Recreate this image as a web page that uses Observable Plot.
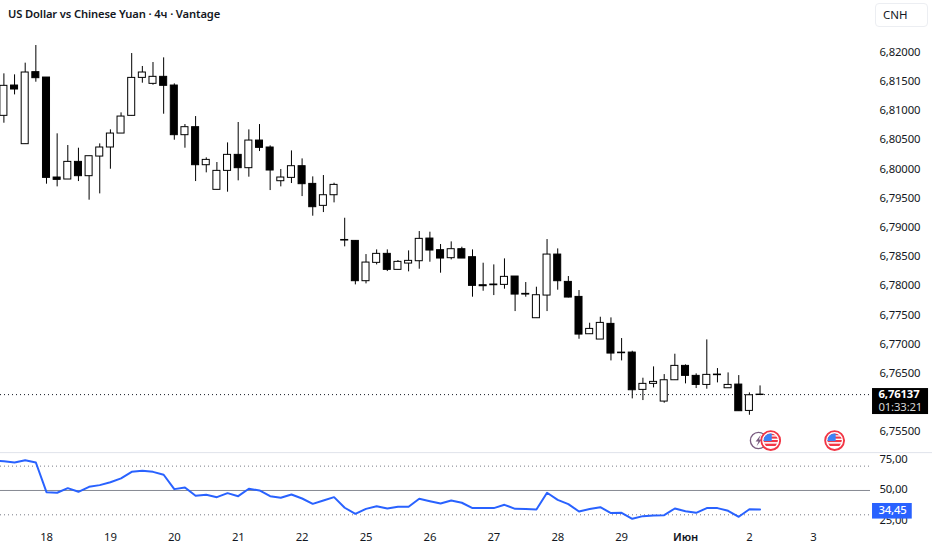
<!DOCTYPE html>
<html><head><meta charset="utf-8">
<script src="https://cdn.jsdelivr.net/npm/d3@7"></script>
<script src="https://cdn.jsdelivr.net/npm/@observablehq/plot@0.6"></script>
<style>
html,body{margin:0;padding:0;background:#fff;width:932px;height:550px;overflow:hidden;font-family:"Noto Sans",sans-serif;color:#131722}
#root{position:relative;width:932px;height:550px}
#title{position:absolute;left:8px;top:5px;font-size:11.2px;font-weight:600;letter-spacing:-0.13px;line-height:18px;color:#131722;white-space:nowrap}
#cnh{position:absolute;left:875px;top:3px;width:53px;height:24px;border:1px solid #eceef2;border-radius:4px;box-sizing:border-box;font-size:11.5px;line-height:22px;padding-left:7px;color:#131722}
#price,#rsi{position:absolute;left:0}
#price{top:0}#rsi{top:452px}
svg{display:block;background:transparent}
</style></head><body>
<div id="root">
<div id="price"></div><div id="rsi"></div>
<div id="title">US Dollar vs Chinese Yuan · 4ч · Vantage</div>
<div id="cnh">CNH</div>
</div>
<script>
const open=[6.80910,6.81429,6.80425,6.81658,6.81566,6.79854,6.79820,6.80122,6.79877,6.80213,6.80368,6.80607,6.80910,6.81560,6.81458,6.81578,6.81429,6.80579,6.80716,6.80065,6.79643,6.79968,6.80242,6.80014,6.80487,6.80368,6.79791,6.79848,6.80048,6.79745,6.79369,6.79551,6.78785,6.78769,6.78079,6.78393,6.78547,6.78273,6.78381,6.78421,6.78809,6.78610,6.78473,6.78627,6.78490,6.78010,6.78022,6.78016,6.78159,6.77862,6.77445,6.77833,6.78535,6.78067,6.77810,6.77171,6.77080,6.77348,6.76856,6.76857,6.76218,6.76321,6.76018,6.76383,6.76629,6.76458,6.76303,6.76470,6.76246,6.76309,6.75858,6.76130];
const close=[6.81424,6.81361,6.81652,6.81555,6.79848,6.79814,6.80122,6.79877,6.80219,6.80368,6.80607,6.80898,6.81560,6.81652,6.81578,6.81424,6.80579,6.80716,6.80065,6.80156,6.79968,6.80242,6.80014,6.80487,6.80362,6.79974,6.79854,6.80048,6.79740,6.79346,6.79551,6.79728,6.78775,6.78079,6.78398,6.78547,6.78273,6.78410,6.78427,6.78804,6.78604,6.78467,6.78627,6.78467,6.77999,6.77993,6.78010,6.78153,6.77850,6.77850,6.77839,6.78535,6.78079,6.77799,6.77165,6.77262,6.77365,6.76840,6.76846,6.76212,6.76321,6.76355,6.76383,6.76629,6.76458,6.76303,6.76475,6.76480,6.76303,6.75853,6.76126,6.76137];
const high=[6.81629,6.81612,6.81812,6.82114,6.81566,6.80602,6.80402,6.80356,6.80219,6.80430,6.80670,6.80961,6.81977,6.81755,6.81823,6.81903,6.81458,6.80761,6.80898,6.80191,6.80111,6.80447,6.80796,6.80670,6.80761,6.80396,6.79991,6.80310,6.80173,6.79865,6.79888,6.79757,6.79157,6.78775,6.78535,6.78615,6.78615,6.78433,6.78598,6.78929,6.78918,6.78707,6.78752,6.78661,6.78615,6.78387,6.78358,6.78461,6.78159,6.78056,6.77976,6.78792,6.78632,6.78159,6.77919,6.77359,6.77462,6.77451,6.77097,6.76880,6.76418,6.76612,6.76480,6.76829,6.76646,6.76492,6.77074,6.76583,6.76509,6.76463,6.76166,6.76286];
const low=[6.80784,6.81269,6.80425,6.81486,6.79740,6.79694,6.79820,6.79785,6.79466,6.79574,6.79996,6.80607,6.80910,6.81469,6.81435,6.80938,6.80493,6.80356,6.79785,6.79934,6.79643,6.79603,6.79797,6.79860,6.80299,6.79631,6.79694,6.79751,6.79528,6.79192,6.79254,6.79420,6.78667,6.78016,6.78033,6.78358,6.78244,6.78273,6.78239,6.78284,6.78404,6.78216,6.78444,6.78467,6.77805,6.77907,6.77833,6.77942,6.77559,6.77805,6.77445,6.77559,6.77925,6.77793,6.77085,6.77171,6.77080,6.76714,6.76714,6.76064,6.76035,6.76252,6.75990,6.76383,6.76321,6.76241,6.76229,6.76338,6.76246,6.75853,6.75784,6.76126];
const rsiIdx=d3.range(-1,72);
const rsi=[74.6,74.1,73.0,74.9,73.0,48.6,48.1,51.9,48.9,53.0,54.4,56.8,59.9,65.3,66.2,65.3,62.9,51.1,52.5,45.6,46.4,44.5,47.8,45.3,51.4,50.0,45.3,44.0,46.7,43.4,39.0,41.8,44.5,35.8,30.8,34.9,37.1,35.2,36.6,36.6,43.2,41.2,39.3,41.8,39.9,35.5,35.5,35.5,38.2,34.9,34.7,34.4,48.1,42.3,38.8,32.7,34.7,36.3,31.4,31.6,26.7,28.9,29.5,29.7,35.2,33.0,31.6,35.5,35.5,33.3,28.4,34.6,34.45];
const priceTicks=[6.755,6.765,6.77,6.775,6.78,6.785,6.79,6.795,6.80,6.805,6.81,6.815,6.82];
const rsiTicks=[25,50,75];
const dayIdx=[4,10,16,22,28,34,40,46,52,58,70,76];
const dayLabels=["18","19","20","21","22","25","26","27","28","29","2","3"];
const monthIdx=[64], monthLabels=["Июн"];
const lastPrice=6.76137, lastRsi=34.45;
const countdown="01:33:21";
const flagIdx=[72,78], boltIdx=[70.85];
const iconPrice=6.75351;
const xDomain=[-0.319,81.37];

const ink="#131722", fontF='"Noto Sans",sans-serif';
const fmt=(v,d)=>v.toFixed(d).replace(".",",");
const candles=open.map((o,i)=>({i,o,c:close[i],h:high[i],l:low[i],up:close[i]>=o}));
const flagSvg='data:image/svg+xml;utf8,'+encodeURIComponent('<svg xmlns="http://www.w3.org/2000/svg" viewBox="0 0 20 20"><circle cx="10" cy="10" r="9" fill="#fff" stroke="#f23645" stroke-width="1.8"/><clipPath id="c"><circle cx="10" cy="10" r="6.8"/></clipPath><g clip-path="url(#c)"><rect width="20" height="20" fill="#fff"/><rect y="9.5" width="20" height="2" fill="#f23645"/><rect y="13" width="20" height="2.2" fill="#f23645"/><rect y="3" width="20" height="2" fill="#f23645"/><rect y="6.2" width="20" height="2" fill="#f23645"/><rect x="2" y="2" width="9" height="8.5" fill="#3b82f6"/></g></svg>');
const boltSvg='data:image/svg+xml;utf8,'+encodeURIComponent('<svg xmlns="http://www.w3.org/2000/svg" viewBox="0 0 20 20"><circle cx="10" cy="10" r="8.5" fill="#fff" stroke="#7a5c80" stroke-width="1.4"/><path d="M12.5 4 L7 11 L10 11 L8 16 L13.5 9 L10.5 9 Z" fill="#7a5c80"/></svg>');
const plotStyle={fontFamily:fontF,fontSize:"11.3px",letterSpacing:"-0.15px",color:ink,background:"transparent"};

const price=Plot.plot({
  width:932,height:452,marginLeft:0,marginRight:62,marginTop:0,marginBottom:0,
  style:plotStyle,
  x:{domain:xDomain,axis:null},
  y:{domain:[6.75146,6.82885],axis:null},
  marks:[
    Plot.axisY({anchor:"right",ticks:priceTicks,tickSize:0,tickPadding:9,tickFormat:v=>fmt(v,5),label:null,textAnchor:"start"}),
    Plot.ruleY([lastPrice],{stroke:ink,strokeDasharray:"1,3",strokeWidth:1}),
    Plot.ruleX(candles,{x:"i",y1:"l",y2:"h",stroke:"#000",strokeWidth:1}),
    Plot.rect(candles,{x1:d=>d.i-0.33,x2:d=>d.i+0.33,y1:d=>Math.min(d.o,d.c),y2:d=>Math.max(d.o,d.c),fill:d=>d.up?"#fff":"#000",stroke:"#000",strokeWidth:1}),
    Plot.image(boltIdx,{x:d=>d,y:()=>iconPrice,src:()=>boltSvg,width:19,height:19}),
    Plot.image(flagIdx,{x:d=>d,y:()=>iconPrice,src:()=>flagSvg,width:21,height:21}),
    Plot.rect([0],{x1:81.56,x2:86.82,y1:6.75796,y2:6.76241,fill:"#000"}),
    Plot.text([fmt(lastPrice,5)],{text:d=>d,frameAnchor:"right",textAnchor:"start",y:()=>lastPrice,dy:-0.5,dx:8,fill:"#fff",fontWeight:700}),
    Plot.text([countdown],{text:d=>d,frameAnchor:"right",textAnchor:"start",y:()=>lastPrice,dy:13,dx:8,fill:"#fff",fillOpacity:0.85})
  ]
});
document.getElementById("price").appendChild(price);

const rsiPlot=Plot.plot({
  width:932,height:98,marginLeft:0,marginRight:62,marginTop:0,marginBottom:22,
  style:plotStyle,
  x:{domain:xDomain,axis:null},
  y:{domain:[18.75,81.2],axis:null},
  marks:[
    Plot.ruleY([0],{y:()=>81.1,x1:xDomain[0],x2:93,stroke:"#e0e3eb",strokeWidth:1}),
    Plot.ruleY([30,70],{stroke:"#787b86",strokeDasharray:"1,3",strokeWidth:1}),
    Plot.ruleY([50],{stroke:"#868993",strokeWidth:1}),
    Plot.line(rsi,{x:(d,i)=>rsiIdx[i],y:d=>d,stroke:"#2962ff",strokeWidth:2,curve:"linear"}),
    Plot.axisY({anchor:"right",ticks:rsiTicks,tickSize:0,tickPadding:9,dy:-1,tickFormat:v=>fmt(v,2),label:null,textAnchor:"start"}),
    Plot.rect([0],{x1:81.56,x2:85.29,y1:26.5,y2:39.3,fill:"#2962ff"}),
    Plot.text([fmt(lastRsi,2)],{text:d=>d,frameAnchor:"right",textAnchor:"start",y:()=>lastRsi-1,dx:8,fill:"#fff",fontWeight:500}),
    Plot.axisX({anchor:"bottom",ticks:dayIdx,tickSize:0,tickPadding:4,tickFormat:v=>dayLabels[dayIdx.indexOf(v)],label:null}),
    Plot.axisX({anchor:"bottom",ticks:monthIdx,tickSize:0,tickPadding:4,tickFormat:v=>monthLabels[monthIdx.indexOf(v)],label:null,fontWeight:600})
  ]
});
document.getElementById("rsi").appendChild(rsiPlot);
</script>
</body></html>
